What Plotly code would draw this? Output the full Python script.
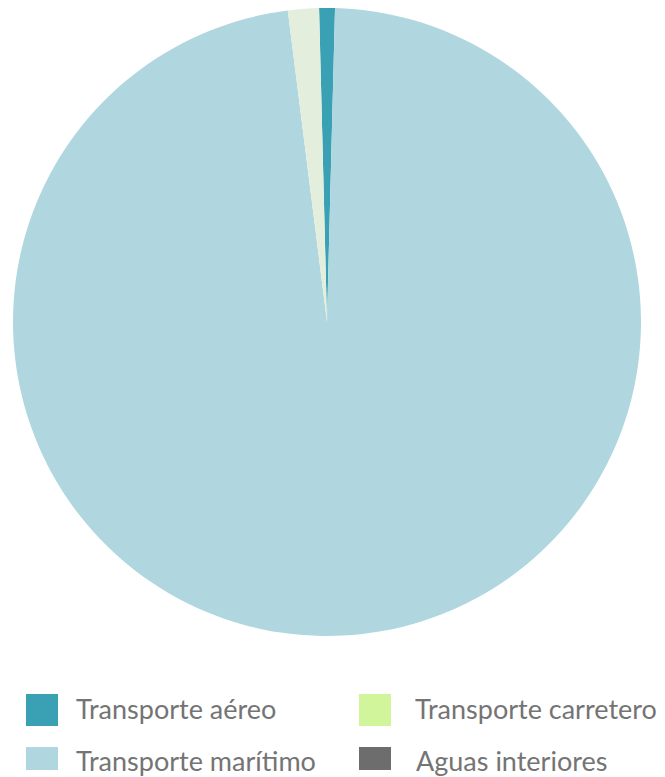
import plotly.graph_objects as go

W, H = 665, 777

labels = ["Transporte aéreo", "Transporte marítimo", "Transporte carretero", "Aguas interiores"]
values = [0.81, 97.60, 1.59, 0.0]
slice_colors = ["#3aa1b5", "#b0d7df", "#e3efdc", "#6d6d6d"]
legend_colors = ["#3aa1b5", "#b0d7df", "#d1f59b", "#6d6d6d"]

fig = go.Figure()
fig.add_trace(go.Pie(
    labels=labels, values=values,
    marker=dict(colors=slice_colors, line=dict(width=0)),
    sort=False, direction="clockwise", rotation=-1.45,
    textinfo="none", hoverinfo="label+percent",
    showlegend=False,
    domain=dict(x=[13 / W, 641 / W], y=[1 - 636 / H, 1 - 8 / H]),
))

# legend drawn manually (column-major: aéreo, marítimo | carretero, aguas)
sq_x = [26, 26, 359, 359]
sq_y = [(694, 726), (747, 770), (694, 726), (747, 770)]
txt_x = [74, 74, 413, 414]
txt_y = [708, 760, 708, 760]
shapes = []
annots = []
for i, lab in enumerate(labels):
    x0 = sq_x[i]
    y0, y1 = sq_y[i]
    shapes.append(dict(type="rect", xref="paper", yref="paper",
                       x0=x0 / W, x1=(x0 + 32) / W, y0=1 - y1 / H, y1=1 - y0 / H,
                       fillcolor=legend_colors[i], line=dict(width=0)))
    annots.append(dict(text=lab, xref="paper", yref="paper",
                       x=txt_x[i] / W, y=1 - txt_y[i] / H,
                       xanchor="left", yanchor="middle", showarrow=False,
                       font=dict(family="Lato", size=27, color="#747474")))

fig.update_layout(
    width=W, height=H,
    margin=dict(l=0, r=0, t=0, b=0),
    paper_bgcolor="white", plot_bgcolor="white",
    shapes=shapes, annotations=annots,
)
fig.write_html("out.html")
